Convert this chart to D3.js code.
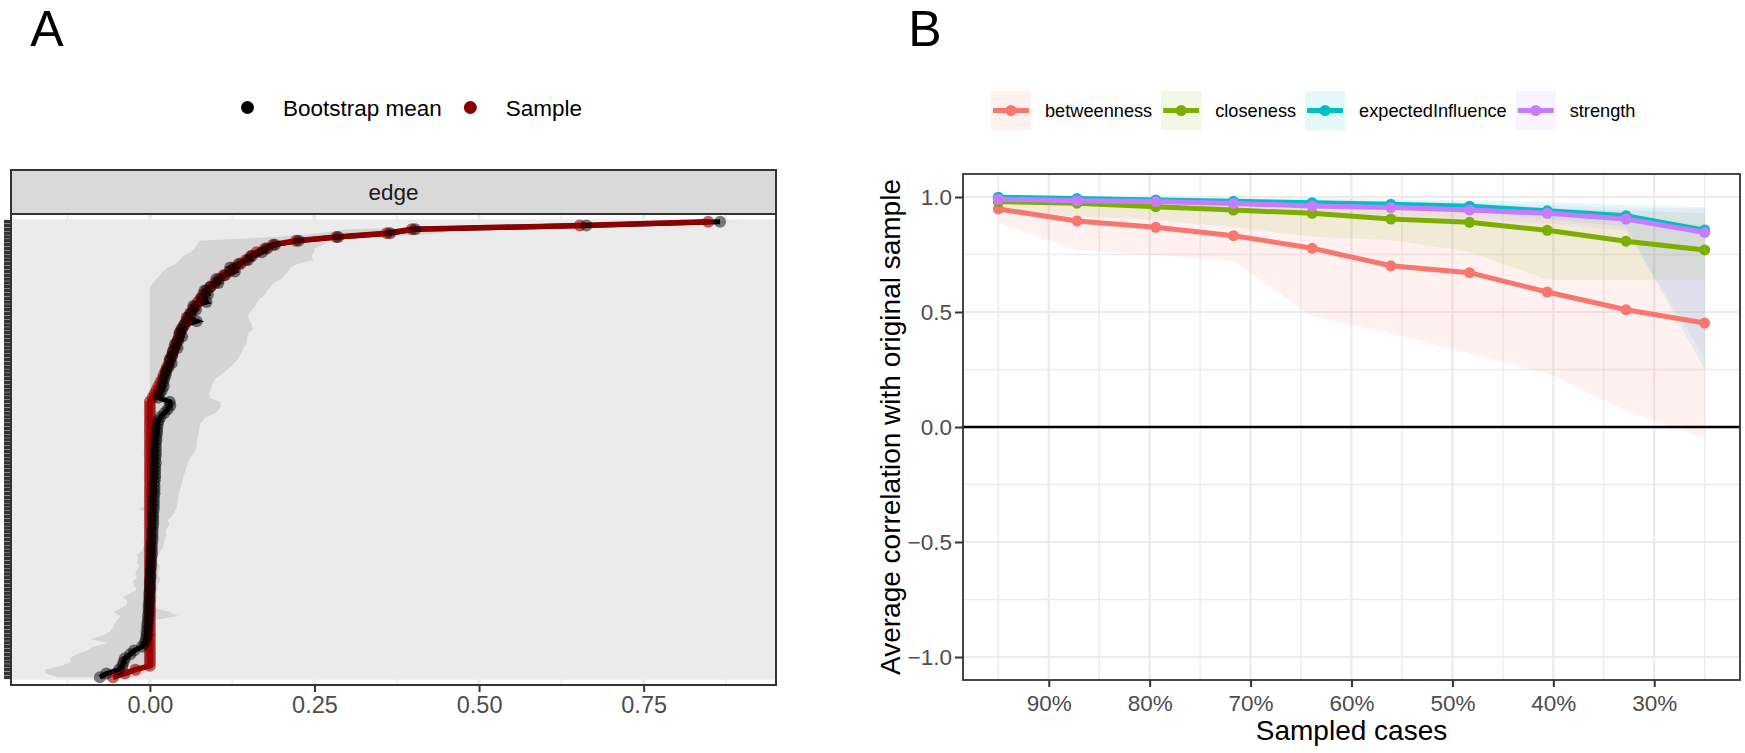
<!DOCTYPE html>
<html>
<head>
<meta charset="utf-8">
<script src="https://cdn.jsdelivr.net/npm/d3@7"></script>
<style>
body { margin: 0; background: #fff; }
svg { display: block; }
</style>
</head>
<body>
<div id="chart"></div>
<script>
// panel A: edge weights, sorted by sample value (top = largest)
const edgeSample = [
  0.848, 0.653, 0.398, 0.360, 0.283, 0.222, 0.187, 0.175, 0.162, 0.153,
  0.146, 0.138, 0.128, 0.121, 0.112, 0.105, 0.099, 0.092, 0.086, 0.081,
  0.077, 0.073, 0.069, 0.065, 0.061, 0.058, 0.055, 0.052, 0.049, 0.046,
  0.044, 0.042, 0.040, 0.037, 0.035, 0.033, 0.031, 0.029, 0.026, 0.024,
  0.021, 0.019, 0.016, 0.013, 0.010, 0.007, 0.004,
  0, 0, 0, 0, 0, 0, 0, 0, 0, 0,
  0, 0, 0, 0, 0, 0, 0, 0, 0, 0,
  0, 0, 0, 0, 0, 0, 0, 0, 0, 0,
  0, 0, 0, 0, 0, 0, 0, 0, 0, 0,
  0, 0, 0, 0, 0, 0, 0, 0, 0, 0,
  0, 0, 0, 0, 0, 0, 0, 0, 0, 0,
  0, 0, 0, 0, 0, 0, 0, 0, 0, 0,
  -0.022, -0.038, -0.056
]
const edgeMean = [
  0.866, 0.663, 0.403, 0.365, 0.286, 0.226, 0.190, 0.178, 0.170, 0.155,
  0.149, 0.135, 0.122, 0.129, 0.114, 0.101, 0.104, 0.092, 0.083, 0.088,
  0.079, 0.086, 0.066, 0.070, 0.062, 0.056, 0.071, 0.052, 0.048, 0.045,
  0.049, 0.043, 0.038, 0.042, 0.035, 0.034, 0.030, 0.033, 0.028, 0.025,
  0.024, 0.022, 0.020, 0.021, 0.018, 0.015, 0.013,
  0.030, 0.031, 0.027, 0.022, 0.016, 0.013, 0.012, 0.011, 0.011, 0.010,
  0.010, 0.009, 0.009, 0.009, 0.009, 0.008, 0.009, 0.008, 0.008, 0.008,
  0.008, 0.007, 0.007, 0.007, 0.007, 0.006, 0.006, 0.006, 0.006, 0.005,
  0.005, 0.005, 0.005, 0.004, 0.004, 0.004, 0.004, 0.003, 0.003, 0.003,
  0.003, 0.002, 0.002, 0.002, 0.001, 0.001, 0.001, 0.000, 0.000, 0.000,
  -0.001, -0.001, -0.001, -0.002, -0.002, -0.002, -0.003, -0.003, -0.004, -0.004,
  -0.005, -0.005, -0.006, -0.008, -0.012, -0.024, -0.030, -0.038, -0.040, -0.042,
  -0.047, -0.066, -0.076
]
const edgeLower = [
  0.790, 0.550, 0.300, 0.260, 0.190, 0.076, 0.072, 0.068, 0.062, 0.050,
  0.045, 0.040, 0.027, 0.020, 0.015, 0.010, 0.005, 0, 0, 0,
  0, 0, 0, 0, 0, 0, 0, 0, 0, 0,
  0, 0, 0, 0, 0, 0, 0, 0, 0, 0,
  0, 0, 0, 0, 0, 0, 0, 0, 0, 0,
  0, 0, 0, 0, 0, 0, 0, 0, 0, 0,
  0, 0, 0, 0, 0, 0, 0, 0, 0, 0,
  0, 0, 0, 0, 0, -0.018, -0.003, 0, -0.002, -0.004,
  0, -0.005, -0.003, -0.008, -0.006, -0.010, -0.012, -0.020, -0.018, -0.020,
  -0.016, -0.020, -0.022, -0.020, -0.026, -0.024, -0.020, -0.028, -0.041, -0.035,
  -0.035, -0.045, -0.056, -0.045, -0.050, -0.054, -0.056, -0.061, -0.070, -0.091,
  -0.064, -0.087, -0.095, -0.111, -0.122, -0.120, -0.135, -0.160, -0.158, -0.140
]
const edgeUpper = [
  0.900, 0.730, 0.470, 0.440, 0.360, 0.272, 0.262, 0.250, 0.250, 0.245,
  0.248, 0.225, 0.213, 0.210, 0.205, 0.200, 0.188, 0.183, 0.178, 0.175,
  0.168, 0.163, 0.160, 0.155, 0.150, 0.149, 0.152, 0.155, 0.157, 0.150,
  0.148, 0.147, 0.147, 0.142, 0.140, 0.137, 0.133, 0.128, 0.122, 0.115,
  0.108, 0.100, 0.096, 0.094, 0.092, 0.090, 0.091, 0.106, 0.108, 0.105,
  0.100, 0.085, 0.080, 0.076, 0.075, 0.074, 0.073, 0.072, 0.071, 0.071,
  0.068, 0.064, 0.060, 0.058, 0.056, 0.054, 0.052, 0.050, 0.049, 0.047,
  0.046, 0.044, 0.043, 0.042, 0.041, 0.040, 0.037, 0.033, 0.027, 0.030,
  0.026, 0.024, 0.025, 0.022, 0.021, 0.020, 0.016, 0.013, 0.011, 0.012,
  0.016, 0.014, 0.012, 0.015, 0.015, 0.012, 0.011, 0.010, 0.011, 0.010,
  0.008, 0.011, 0.030, 0.043, 0.008, 0.006, 0.005, 0.005, 0.004, 0.003,
  0.005, 0.004, 0.002, 0.000, 0.000, 0.000, 0.000, 0.000, -0.010, -0.020
]
const edgeTicks = [0, 0.25, 0.5, 0.75]
const edgeMinorTicks = [-0.125, 0.125, 0.375, 0.625, 0.875]
const edgeLegend = ["Bootstrap mean", "Sample"]

// panel B: case-dropping stability
const sampledCases = [0.95, 0.872, 0.794, 0.717, 0.639, 0.561, 0.483, 0.406, 0.328, 0.25]
const measures = ["betweenness", "closeness", "expectedInfluence", "strength"]
const betweennessMean = [0.948, 0.896, 0.868, 0.832, 0.777, 0.701, 0.671, 0.587, 0.510, 0.452]
const betweennessLow = [0.887, 0.770, 0.748, 0.722, 0.480, 0.408, 0.320, 0.234, 0.070, -0.050]
const betweennessHigh = [0.990, 0.980, 0.972, 0.965, 0.955, 0.945, 0.935, 0.925, 0.905, 0.880]
const closenessMean = [0.980, 0.973, 0.958, 0.943, 0.929, 0.904, 0.890, 0.855, 0.808, 0.770]
const closenessLow = [0.943, 0.915, 0.900, 0.868, 0.827, 0.813, 0.762, 0.640, 0.640, 0.640]
const closenessHigh = [0.995, 0.992, 0.988, 0.984, 0.978, 0.970, 0.963, 0.952, 0.940, 0.930]
const influenceMean = [0.999, 0.993, 0.987, 0.981, 0.975, 0.968, 0.960, 0.940, 0.918, 0.856]
const influenceLow = [0.994, 0.986, 0.977, 0.968, 0.958, 0.948, 0.935, 0.905, 0.870, 0.250]
const influenceHigh = [1.000, 0.999, 0.997, 0.995, 0.993, 0.990, 0.986, 0.978, 0.965, 0.955]
const strengthMean = [0.990, 0.984, 0.980, 0.972, 0.961, 0.954, 0.943, 0.929, 0.904, 0.846]
const strengthLow = [0.980, 0.972, 0.962, 0.950, 0.935, 0.922, 0.905, 0.885, 0.855, 0.300]
const strengthHigh = [0.997, 0.995, 0.993, 0.990, 0.986, 0.982, 0.976, 0.966, 0.952, 0.950]
const caseTicks = [0.9, 0.8, 0.7, 0.6, 0.5, 0.4, 0.3]
const caseMinorTicks = [0.95, 0.85, 0.75, 0.65, 0.55, 0.45, 0.35, 0.25]
const corTicks = [-1, -0.5, 0, 0.5, 1]
const corMinorTicks = [-0.75, -0.25, 0.25, 0.75]

const colors = ["#F8766D", "#7CAE00", "#00BFC4", "#C77CFF"]
const series = [
  {mean: betweennessMean, low: betweennessLow, high: betweennessHigh},
  {mean: closenessMean, low: closenessLow, high: closenessHigh},
  {mean: influenceMean, low: influenceLow, high: influenceHigh},
  {mean: strengthMean, low: strengthLow, high: strengthHigh},
]

const font = '"Liberation Sans", Arial, sans-serif'
const svg = d3.select('#chart').append('svg')
  .attr('width', 1745).attr('height', 753)
  .attr('font-family', font)

// ---------- A ----------
const pa = {left: 11, right: 776, top: 214, bottom: 685, strip: 170}
const ax = d3.scaleLinear().domain([-0.211, 0.951]).range([pa.left, pa.right])
const edgeIds = edgeSample.map((d, i) => i)
const ay = d3.scalePoint().domain(edgeIds).range([pa.top, pa.bottom]).padding(2)

const gA = svg.append('g')
gA.append('rect')
  .attr('x', pa.left).attr('y', pa.top)
  .attr('width', pa.right - pa.left).attr('height', pa.bottom - pa.top)
  .attr('fill', '#fff')

gA.selectAll('.vminor').data(edgeMinorTicks).join('line')
  .attr('x1', d => ax(d)).attr('x2', d => ax(d))
  .attr('y1', pa.top).attr('y2', pa.bottom)
  .attr('stroke', '#EBEBEB').attr('stroke-width', 1.8)
gA.selectAll('.vmajor').data(edgeTicks).join('line')
  .attr('x1', d => ax(d)).attr('x2', d => ax(d))
  .attr('y1', pa.top).attr('y2', pa.bottom)
  .attr('stroke', '#EBEBEB').attr('stroke-width', 3.6)
gA.selectAll('.hgrid').data(edgeIds).join('line')
  .attr('x1', pa.left).attr('x2', pa.right)
  .attr('y1', d => ay(d)).attr('y2', d => ay(d))
  .attr('stroke', '#EBEBEB').attr('stroke-width', 4.8)

const ribbon = d3.area()
  .y(i => ay(i))
  .x0(i => ax(edgeLower[i]))
  .x1(i => ax(edgeUpper[i]))
gA.append('path').attr('d', ribbon(edgeIds))
  .attr('fill', '#BEBEBE').attr('fill-opacity', 0.5)

const meanLine = d3.line().x(i => ax(edgeMean[i])).y(i => ay(i))
const sampleLine = d3.line().x(i => ax(edgeSample[i])).y(i => ay(i))
gA.append('path').attr('d', meanLine(edgeIds))
  .attr('fill', 'none').attr('stroke', '#000').attr('stroke-width', 5)
gA.append('path').attr('d', sampleLine(edgeIds))
  .attr('fill', 'none').attr('stroke', '#8B0000').attr('stroke-width', 5.5)

gA.selectAll('.pSample').data(edgeIds).join('circle')
  .attr('cx', i => ax(edgeSample[i])).attr('cy', i => ay(i)).attr('r', 6)
  .attr('fill', '#9E0000').attr('fill-opacity', 0.6)
gA.selectAll('.pMean').data(edgeIds).join('circle')
  .attr('cx', i => ax(edgeMean[i])).attr('cy', i => ay(i)).attr('r', 6)
  .attr('fill', '#000').attr('fill-opacity', 0.5)

gA.append('rect')
  .attr('x', pa.left).attr('y', pa.top)
  .attr('width', pa.right - pa.left).attr('height', pa.bottom - pa.top)
  .attr('fill', 'none').attr('stroke', '#333').attr('stroke-width', 2)

// strip
gA.append('rect')
  .attr('x', pa.left).attr('y', pa.strip)
  .attr('width', pa.right - pa.left).attr('height', pa.top - pa.strip)
  .attr('fill', '#D9D9D9').attr('stroke', '#333').attr('stroke-width', 2)
gA.append('text')
  .attr('x', (pa.left + pa.right) / 2).attr('y', 200)
  .attr('text-anchor', 'middle').attr('font-size', 22.5).attr('fill', '#1A1A1A')
  .text('edge')

// y ticks (one per edge, labels hidden)
gA.selectAll('.ytick').data(edgeIds).join('line')
  .attr('x1', pa.left - 7).attr('x2', pa.left)
  .attr('y1', d => ay(d)).attr('y2', d => ay(d))
  .attr('stroke', '#333').attr('stroke-width', 3.5)

const axA = gA.append('g')
  .attr('transform', `translate(0,${pa.bottom})`)
  .call(d3.axisBottom(ax).tickValues(edgeTicks).tickFormat(d3.format('.2f')).tickSize(7).tickPadding(4))
axA.select('.domain').remove()
axA.selectAll('line').attr('stroke', '#333').attr('stroke-width', 2)
axA.selectAll('text').attr('font-size', 23.5).attr('fill', '#4D4D4D').attr('font-family', font)

// legend A
let lxA = 228
edgeLegend.forEach((name, i) => {
  const g = gA.append('g').attr('transform', `translate(${lxA},88)`)
  g.append('circle').attr('cx', 19.5).attr('cy', 19.5).attr('r', 6.5)
    .attr('fill', i === 0 ? '#000' : '#8B0000')
  const t = g.append('text').attr('x', 55).attr('y', 27.5)
    .attr('font-size', 22.5).attr('fill', '#000').text(name)
  lxA += 55 + t.node().getComputedTextLength() + 9
})

// ---------- B ----------
const pb = {left: 963, right: 1740, top: 174, bottom: 680}
const bx = d3.scaleLinear().domain([0.985, 0.215]).range([pb.left, pb.right])
const by = d3.scaleLinear().domain([-1.1, 1.1]).range([pb.bottom, pb.top])

const gB = svg.append('g')
gB.selectAll('.hminor').data(corMinorTicks).join('line')
  .attr('x1', pb.left).attr('x2', pb.right)
  .attr('y1', d => by(d)).attr('y2', d => by(d))
  .attr('stroke', '#EBEBEB').attr('stroke-width', 1.3)
gB.selectAll('.vminor').data(caseMinorTicks).join('line')
  .attr('x1', d => bx(d)).attr('x2', d => bx(d))
  .attr('y1', pb.top).attr('y2', pb.bottom)
  .attr('stroke', '#EBEBEB').attr('stroke-width', 1.3)
gB.selectAll('.hmajor').data(corTicks).join('line')
  .attr('x1', pb.left).attr('x2', pb.right)
  .attr('y1', d => by(d)).attr('y2', d => by(d))
  .attr('stroke', '#EBEBEB').attr('stroke-width', 2.2)
gB.selectAll('.vmajor').data(caseTicks).join('line')
  .attr('x1', d => bx(d)).attr('x2', d => bx(d))
  .attr('y1', pb.top).attr('y2', pb.bottom)
  .attr('stroke', '#EBEBEB').attr('stroke-width', 2.2)

const caseIdx = sampledCases.map((d, i) => i)
series.forEach((s, k) => {
  const area = d3.area()
    .x(i => bx(sampledCases[i]))
    .y0(i => by(s.low[i]))
    .y1(i => by(s.high[i]))
  gB.append('path').attr('d', area(caseIdx))
    .attr('fill', colors[k]).attr('fill-opacity', 0.1)
})

gB.append('line')
  .attr('x1', pb.left).attr('x2', pb.right)
  .attr('y1', by(0)).attr('y2', by(0))
  .attr('stroke', '#000').attr('stroke-width', 2.4)

series.forEach((s, k) => {
  const line = d3.line().x(i => bx(sampledCases[i])).y(i => by(s.mean[i]))
  gB.append('path').attr('d', line(caseIdx))
    .attr('fill', 'none').attr('stroke', colors[k]).attr('stroke-width', 5)
  gB.selectAll('.pt' + k).data(caseIdx).join('circle')
    .attr('cx', i => bx(sampledCases[i])).attr('cy', i => by(s.mean[i]))
    .attr('r', 5.5).attr('fill', colors[k])
})

gB.append('rect')
  .attr('x', pb.left).attr('y', pb.top)
  .attr('width', pb.right - pb.left).attr('height', pb.bottom - pb.top)
  .attr('fill', 'none').attr('stroke', '#333').attr('stroke-width', 1.8)

const axBx = gB.append('g')
  .attr('transform', `translate(0,${pb.bottom})`)
  .call(d3.axisBottom(bx).tickValues(caseTicks).tickFormat(d => Math.round(d * 100) + '%').tickSize(7).tickPadding(8))
axBx.select('.domain').remove()
axBx.selectAll('line').attr('stroke', '#333').attr('stroke-width', 2)
axBx.selectAll('text').attr('font-size', 22.5).attr('fill', '#4D4D4D').attr('font-family', font)

const axBy = gB.append('g')
  .attr('transform', `translate(${pb.left},0)`)
  .call(d3.axisLeft(by).tickValues(corTicks).tickFormat(d3.format('.1f')).tickSize(8).tickPadding(3))
axBy.select('.domain').remove()
axBy.selectAll('line').attr('stroke', '#333').attr('stroke-width', 2)
axBy.selectAll('text').attr('font-size', 22.5).attr('fill', '#4D4D4D').attr('font-family', font)

gB.append('text')
  .attr('x', (pb.left + pb.right) / 2).attr('y', 740)
  .attr('text-anchor', 'middle').attr('font-size', 28).attr('fill', '#000')
  .text('Sampled cases')
gB.append('text')
  .attr('transform', `translate(900,${(pb.top + pb.bottom) / 2}) rotate(-90)`)
  .attr('text-anchor', 'middle').attr('font-size', 28).attr('fill', '#000')
  .text('Average correlation with original sample')

// legend B
let lxB = 991
measures.forEach((name, k) => {
  const g = gB.append('g').attr('transform', `translate(${lxB},91)`)
  g.append('rect').attr('width', 40).attr('height', 39)
    .attr('fill', colors[k]).attr('fill-opacity', 0.1)
  g.append('line').attr('x1', 2).attr('x2', 38).attr('y1', 19.5).attr('y2', 19.5)
    .attr('stroke', colors[k]).attr('stroke-width', 5)
  g.append('circle').attr('cx', 20).attr('cy', 19.5).attr('r', 5.5).attr('fill', colors[k])
  const t = g.append('text').attr('x', 54).attr('y', 26)
    .attr('font-size', 18.2).attr('fill', '#000').text(name)
  lxB += 54 + t.node().getComputedTextLength() + 9
})

// panel tags
svg.append('text').attr('x', 47).attr('y', 46).attr('text-anchor', 'middle')
  .attr('font-size', 50).attr('font-family', '"Liberation Sans Narrow", "Liberation Sans", sans-serif')
  .text('A')
svg.append('text').attr('x', 925).attr('y', 46).attr('text-anchor', 'middle')
  .attr('font-size', 50).attr('font-family', '"Liberation Sans Narrow", "Liberation Sans", sans-serif')
  .text('B')
</script>
</body>
</html>
